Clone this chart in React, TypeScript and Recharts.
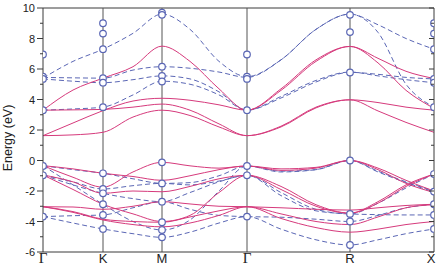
import React from 'react';
import { ComposedChart, Line, Scatter, XAxis, YAxis, ReferenceLine } from 'recharts';

// k-path positions (arbitrary units along Γ-K-M-Γ-R-X)
const K_PTS = [0, 30, 60, 90, 119, 147, 176, 204, 238, 273, 307, 335, 363, 391];
const TICK_POS = [0, 60, 119, 204, 307, 391];
const TICK_LABELS = ['Γ', 'K', 'M', 'Γ', 'R', 'X'];
const Y_TICKS = [-6, -5, -4, -3, -2, -1, 0, 1, 2, 3, 4, 5, 6, 7, 8, 9, 10];

// solid bands (magenta)
const S1 = [1.63, 1.68, 1.85, 2.85, 3.3, 2.95, 2.2, 1.63, 2.2, 3.45, 3.98, 3.25, 2.5, 1.85];
const S2 = [1.63, 2.46, 3.27, 3.9, 4.08, 3.95, 3.65, 3.3, 4.7, 6.6, 7.48, 6.7, 5.85, 5.38];
const S3 = [3.3, 3.32, 3.35, 3.5, 3.7, 3.3, 2.4, 1.63, 2.25, 3.5, 3.98, 3.8, 3.5, 3.3];
const S4 = [3.3, 4.62, 5.4, 6.15, 7.5, 6.5, 4.7, 3.3, 4.6, 6.5, 7.48, 6.4, 4.6, 3.42];
const V1 = [-0.34, -0.55, -0.84, -1.05, -1.3, -1.0, -0.6, -0.36, -0.55, -0.45, 0.0, -0.5, -1.3, -2.0];
const V2 = [-0.34, -1.1, -1.75, -0.75, -0.12, -0.35, -0.5, -0.36, -0.65, -0.5, 0.0, -0.6, -1.5, -2.1];
const V3 = [-0.95, -1.4, -2.15, -2.0, -2.05, -1.7, -1.2, -0.97, -1.9, -3.0, -3.45, -2.8, -1.7, -0.89];
const V4 = [-3.03, -3.05, -3.2, -3.0, -2.7, -2.85, -3.0, -3.03, -3.1, -3.2, -3.25, -3.1, -2.95, -2.87];
const V5 = [-3.03, -3.35, -3.85, -4.0, -4.05, -3.7, -3.3, -3.03, -3.5, -4.0, -4.2, -3.7, -3.1, -2.9];
const V6 = [-0.95, -1.9, -2.87, -3.5, -4.0, -3.6, -2.1, -0.97, -1.7, -2.9, -3.45, -2.7, -1.6, -0.89];
const V7 = [-3.03, -3.4, -3.9, -4.2, -4.35, -4.1, -3.6, -3.03, -3.8, -4.4, -4.7, -4.5, -4.2, -4.0];

// dashed bands (blue)
const DA = [5.4, 6.5, 7.3, 8.34, 9.6, 8.6, 6.5, 5.5, 6.6, 8.6, 9.6, 8.9, 8.0, 7.3];
const DB = [5.45, 5.42, 5.4, 5.93, 6.15, 6.05, 5.8, 5.45, 6.6, 8.6, 9.6, 8.4, 5.0, 3.5];
const DC = [5.35, 5.2, 5.1, 5.3, 5.55, 5.35, 4.5, 3.3, 4.1, 5.15, 5.78, 5.65, 5.45, 5.35];
const DD = [3.3, 3.38, 3.5, 4.3, 5.2, 5.0, 4.3, 3.3, 4.2, 5.25, 5.8, 5.55, 5.3, 5.1];
const W1 = [-0.34, -0.6, -0.84, -1.2, -1.5, -1.45, -1.0, -0.36, -0.75, -0.6, 0.0, -0.7, -1.4, -2.0];
const W2 = [-0.95, -1.4, -1.87, -1.65, -1.5, -1.6, -1.35, -0.97, -2.1, -3.2, -3.5, -2.8, -1.8, -0.89];
const W3 = [-0.95, -1.6, -2.15, -2.5, -2.7, -2.1, -1.4, -0.97, -2.3, -3.3, -3.5, -3.55, -3.57, -3.57];
const W4 = [-0.34, -1.6, -2.87, -4.0, -4.56, -3.9, -2.0, -0.36, -0.7, -0.6, 0.0, -0.75, -1.45, -2.05];
const W5 = [-3.68, -3.62, -3.57, -3.1, -2.7, -3.2, -3.6, -3.68, -3.72, -3.85, -4.0, -3.6, -3.1, -2.87];
const W6 = [-3.68, -4.1, -4.49, -4.8, -5.04, -4.7, -4.1, -3.68, -4.5, -5.2, -5.54, -5.2, -4.8, -4.49];

// open circles at high-symmetry points
const CIRC_G = [6.95, 5.5, 5.35, 3.3, -0.36, -0.97, -3.68];
const CIRC_K = [9.0, 8.32, 7.3, 5.4, 5.1, 3.5, -0.84, -1.87, -2.15, -2.87, -3.57, -4.49];
const CIRC_M = [9.7, 9.55, 6.15, 5.55, 5.18, -0.12, -1.5, -2.7, -4.05, -4.56, -5.04];
const CIRC_R = [9.55, 8.42, 5.77, 0.0, -3.5, -4.0, -5.54];
const CIRC_X = [9.0, 8.32, 7.3, 5.35, 5.1, 3.5, -0.89, -2.04, -2.87, -3.57, -4.49];

const SOLID: Record<string, number[]> = { S1, S2, S3, S4, V1, V2, V3, V4, V5, V6, V7 };
const DASHED: Record<string, number[]> = { DA, DB, DC, DD, W1, W2, W3, W4, W5, W6 };

const rows = K_PTS.map((k, i) => {
  const r: any = { k };
  Object.keys(SOLID).forEach((n) => (r[n] = SOLID[n][i]));
  Object.keys(DASHED).forEach((n) => (r[n] = DASHED[n][i]));
  return r;
});

const circles = [
  ...CIRC_G.map((e) => ({ k: TICK_POS[0], e })),
  ...CIRC_K.map((e) => ({ k: TICK_POS[1], e })),
  ...CIRC_M.map((e) => ({ k: TICK_POS[2], e })),
  ...CIRC_G.map((e) => ({ k: TICK_POS[3], e })),
  ...CIRC_R.map((e) => ({ k: TICK_POS[4], e })),
  ...CIRC_X.map((e) => ({ k: TICK_POS[5], e })),
];

const SOLID_COLOR = '#d63a7c';
const DASH_COLOR = '#5b67b5';
const FRAME = '#3a3a3a';
const SANS = '"Liberation Sans", Arial, sans-serif';
const SERIF = '"Liberation Serif", "Times New Roman", serif';

const XTick = (props: any) => {
  const { x, payload } = props;
  const i = TICK_POS.indexOf(payload.value);
  const lab = TICK_LABELS[i];
  const serif = lab === 'Γ';
  return (
    <text x={x} y={263} textAnchor="middle" fontSize={serif ? 15 : 13} fontFamily={serif ? SERIF : SANS} fill="#222">
      {lab}
    </text>
  );
};

const YTickL = (props: any) => {
  const { y, payload } = props;
  const v = payload.value;
  const major = v % 2 === 0;
  return (
    <g>
      <line x1={43} x2={major ? 37 : 40} y1={y} y2={y} stroke={FRAME} strokeWidth={1} />
      {major && (
        <text x={35} y={y + 4} textAnchor="end" fontSize={11} fontFamily={SANS} fill="#222">
          {v}
        </text>
      )}
    </g>
  );
};

const YTickR = (props: any) => {
  const { y, payload } = props;
  const v = payload.value;
  const major = v % 2 === 0;
  return <line x1={434} x2={major ? 429 : 431} y1={y} y2={y} stroke={FRAME} strokeWidth={1} />;
};

const CircleShape = (props: any) => {
  const { cx, cy } = props;
  return <circle cx={cx} cy={cy} r={3.3} fill="#fff" stroke={DASH_COLOR} strokeWidth={1.2} />;
};

export default function App() {
  return (
    <div style={{ position: 'absolute', left: 0, top: 0, width: 443, height: 268, background: '#fff' }}>
      <ComposedChart width={443} height={268} data={rows} margin={{ top: 8, right: 0, bottom: 0, left: 0 }}>
        <XAxis
          dataKey="k"
          type="number"
          domain={[0, 391]}
          ticks={TICK_POS}
          tick={<XTick />}
          tickLine={false}
          axisLine={{ stroke: FRAME }}
          height={16}
          allowDataOverflow
        />
        <YAxis
          type="number"
          domain={[-6, 10]}
          ticks={Y_TICKS}
          tick={<YTickL />}
          tickLine={false}
          axisLine={{ stroke: FRAME }}
          width={43}
          interval={0}
          allowDataOverflow
          label={{
            content: () => (
              <text x={12} y={138} transform="rotate(-90 12 138)" textAnchor="middle" fontSize={12.5} fontFamily={SANS} fill="#222">
                Energy (eV)
              </text>
            ),
          }}
        />
        <YAxis
          yAxisId="r"
          orientation="right"
          type="number"
          domain={[-6, 10]}
          ticks={Y_TICKS}
          tick={<YTickR />}
          tickLine={false}
          axisLine={{ stroke: FRAME }}
          width={9}
          interval={0}
          allowDataOverflow
        />
        <ReferenceLine y={10} stroke={FRAME} />
        {TICK_POS.slice(1, 5).map((p) => (
          <ReferenceLine key={'v' + p} x={p} stroke="#555" />
        ))}
        {Object.keys(DASHED).map((n) => (
          <Line
            key={n}
            dataKey={n}
            type="monotone"
            stroke={DASH_COLOR}
            strokeWidth={1}
            strokeDasharray="5 3"
            dot={false}
            activeDot={false}
            isAnimationActive={false}
          />
        ))}
        {Object.keys(SOLID).map((n) => (
          <Line
            key={n}
            dataKey={n}
            type="monotone"
            stroke={SOLID_COLOR}
            strokeWidth={1}
            dot={false}
            activeDot={false}
            isAnimationActive={false}
          />
        ))}
        <Scatter data={circles} dataKey="e" shape={<CircleShape />} isAnimationActive={false} />
      </ComposedChart>
    </div>
  );
}
